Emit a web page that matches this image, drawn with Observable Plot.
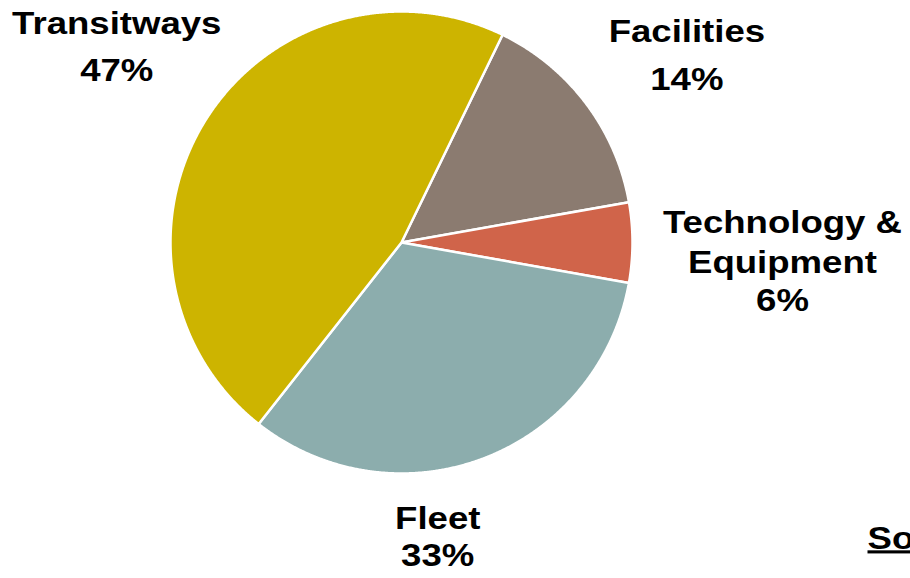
<!DOCTYPE html>
<html>
<head>
<meta charset="utf-8">
<script src="https://cdn.jsdelivr.net/npm/d3@7"></script>
<script src="https://cdn.jsdelivr.net/npm/@observablehq/plot@0.6"></script>
<style>
  html, body { margin: 0; padding: 0; background: #fff; }
  #chart svg { display: block; font-family: "Liberation Sans", Arial, sans-serif; }
  #chart svg text { font-weight: bold; }
</style>
</head>
<body>
<div id="chart"></div>
<script>
// ---- data ----
const categories = ["Facilities", "Technology &\nEquipment", "Fleet", "Transitways"];
const shares = [15.0, 5.6, 32.8, 46.6];          // slice sizes as measured from the angles
const pctLabels = ["14%", "6%", "33%", "47%"];    // printed labels
const sourceText = ["Source:"];

// ---- styles / layout (not data) ----
const colors = ["#8B7B70", "#D0644A", "#8CADAD", "#CDB400"];
const startAngle = 25.95; // degrees clockwise from 12 o'clock
const labelLayout = [
  {dx: 101, nameDy: -61, pctDy: -13},
  {dx: 150, nameDy: 30, pctDy: 68},
  {dx: -46, nameDy: 71, pctDy: 108},
  {dx: -89, nameDy: -86, pctDy: -39}
];

// ---- build slices ----
const total = d3.sum(shares);
const rad = Math.PI / 180;
let acc = startAngle;
const slices = categories.map((name, i) => {
  const a0 = acc, a1 = acc + shares[i] / total * 360;
  acc = a1;
  return {name, a0, a1, mid: (a0 + a1) / 2, pct: pctLabels[i], ...labelLayout[i]};
});
const piePoints = [];
for (const s of slices) {
  piePoints.push({name: s.name, x: 0, y: 0});
  const n = Math.max(2, Math.ceil((s.a1 - s.a0) / 0.25));
  for (let k = 0; k <= n; k++) {
    const a = (s.a0 + (s.a1 - s.a0) * k / n) * rad;
    piePoints.push({name: s.name, x: Math.sin(a), y: Math.cos(a)});
  }
}
const labelData = slices.map(s => ({...s, x: Math.sin(s.mid * rad), y: Math.cos(s.mid * rad)}));

const plot = Plot.plot({
  width: 910,
  height: 578,
  margin: 0,
  x: {domain: [-1, 1], range: [170, 632], axis: null},
  y: {domain: [-1, 1], range: [473, 11], axis: null},
  color: {domain: categories, range: colors},
  marks: [
    Plot.line(piePoints, {x: "x", y: "y", z: "name", fill: "name", stroke: "white", strokeWidth: 2.5, strokeLinejoin: "round", curve: "linear-closed"}),
    ...labelData.map(d => Plot.text([d], {x: "x", y: "y", text: "name", dx: d.dx, dy: d.nameDy, textAnchor: "middle", lineAnchor: "bottom", lineHeight: 1.29, fontSize: 31, fill: "black"})),
    ...labelData.map(d => Plot.text([d], {x: "x", y: "y", text: "pct", dx: d.dx, dy: d.pctDy, textAnchor: "middle", lineAnchor: "bottom", fontSize: 31, fill: "black"})),
    Plot.text(sourceText, {frameAnchor: "bottom-left", dx: 867, dy: -30, textAnchor: "start", lineAnchor: "bottom", fontSize: 31, fill: "black"})
  ]
});
document.getElementById("chart").appendChild(plot);

// horizontally widen the lettering like the reference (compose with Plot's own transform)
d3.select(plot).selectAll("text").each(function () {
  const el = d3.select(this);
  const existing = el.attr("transform") || "";
  const x = +el.attr("x") || 0;
  el.attr("transform", `${existing} translate(${x},0) scale(1.18,1) translate(${-x},0)`);
  if (this.textContent.startsWith("Source")) el.style("text-decoration", "underline");
});
</script>
</body>
</html>
